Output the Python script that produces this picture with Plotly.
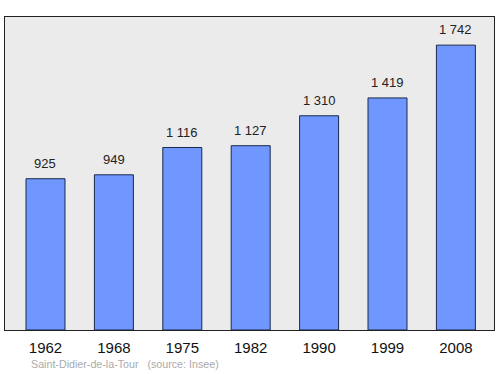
import plotly.graph_objects as go

years = ["1962", "1968", "1975", "1982", "1990", "1999", "2008"]
population = [925, 949, 1116, 1127, 1310, 1419, 1742]
labels = ["925", "949", "1 116", "1 127", "1 310", "1 419", "1 742"]

xs = list(range(len(years)))

fig = go.Figure()
fig.add_trace(go.Bar(
    x=xs, y=population, width=0.57,
    marker=dict(color="#7096ff", line=dict(color="#1a2a4a", width=1)),
    hoverinfo="skip",
))
for x, y, t in zip(xs, population, labels):
    fig.add_annotation(x=x, y=y, text=t, showarrow=False, yanchor="bottom",
                       yshift=6, font=dict(family="Liberation Sans, Arial", size=13, color="#222"))

fig.add_annotation(xref="paper", yref="paper", x=0.05, y=-0.109, xanchor="left", yanchor="middle",
                   text="Saint-Didier-de-la-Tour &nbsp; (source: Insee)", showarrow=False,
                   font=dict(family="Liberation Sans, Arial", size=10.7, color="#aaaaaa"))

fig.update_layout(
    width=500, height=374,
    margin=dict(l=5, r=6, t=17, b=44),
    paper_bgcolor="white", plot_bgcolor="#ebebeb",
    showlegend=False,
    xaxis=dict(range=[-0.592, 6.557], tickmode="array", tickvals=xs, ticktext=years,
               showgrid=False, zeroline=False, showline=True, mirror=True,
               linecolor="#222", linewidth=1, ticks="", ticklabelstandoff=4,
               tickfont=dict(family="Liberation Sans, Arial", size=15, color="#111")),
    yaxis=dict(range=[0, 1914], showgrid=False, zeroline=False, showticklabels=False,
               showline=True, mirror=True, linecolor="#222", linewidth=1, ticks=""),
)
fig.write_html("out.html")
